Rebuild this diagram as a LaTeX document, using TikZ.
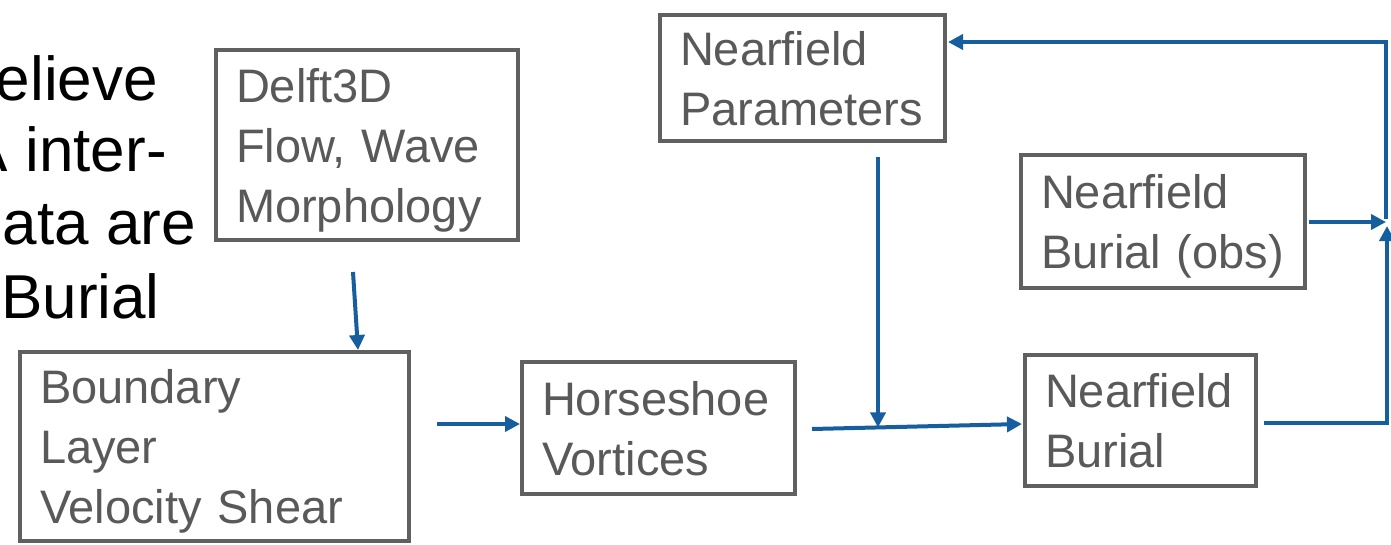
\documentclass[tikz,border=0pt]{standalone}
\usepackage{fontspec}
\setmainfont{Liberation Sans}
\usetikzlibrary{arrows.meta,calc}
\definecolor{boxgray}{RGB}{96,96,96}
\definecolor{txtgray}{RGB}{89,89,89}
\definecolor{arrblue}{RGB}{22,94,158}
\newcommand{\nodepth}[1]{\raisebox{0pt}[\height][0pt]{#1}}
\tikzset{
  flowbox/.style={draw=boxgray, line width=4pt, rectangle, inner sep=0pt,
    align=left, text=txtgray, font=\fontsize{47}{60}\selectfont},
  flowarrow/.style={draw=arrblue, line width=4pt,
    -{Triangle[length=15pt,width=15pt]}},
  slidetext/.style={anchor=base east, text=black, inner sep=0pt,
    font=\fontsize{62}{73}\selectfont}
}
\begin{document}
\begin{tikzpicture}[x=1pt,y=-1pt]
\useasboundingbox (0,0) rectangle (1391,544);
\clip (0,0) rectangle (1391,544);
\fill[white] (0,0) rectangle (1391,544);

% partial slide text on the left
\node[slidetext] (t1) at (158,100) {elieve};
\node[slidetext] (t2) at (167,171) {A inter-};
\node[slidetext] (t3) at (196,244) {ata are};
\node[slidetext] (t4) at (160,318) {Burial};

% boxes
\node[flowbox, minimum width=302pt, minimum height=190pt, text width=262pt]
  (delft) at (367,145) {Delft3D\\Flow, Wave\\\nodepth{Morphology}};
\node[flowbox, minimum width=389pt, minimum height=189pt, text width=349pt]
  (bound) at (214.5,446.5) {Boundary\\Layer\\\nodepth{Velocity Shear}};
\node[flowbox, minimum width=273pt, minimum height=132pt, text width=233pt]
  (horse) at (658.5,428) {Horseshoe\\\nodepth{Vortices}};
\node[flowbox, minimum width=285pt, minimum height=126pt, text width=245pt]
  (params) at (802.5,78) {Nearfield\\\nodepth{Parameters}};
\node[flowbox, minimum width=284pt, minimum height=133pt, text width=244pt]
  (obs) at (1163,221.5) {Nearfield\\\nodepth{Burial (obs)}};
\node[flowbox, minimum width=231pt, minimum height=131pt, text width=191pt]
  (burial) at (1140.5,420.5) {Nearfield\\\nodepth{Burial}};

% connectors
\draw[flowarrow] ($(delft.south)+(-14,30)$) -- ($(bound.north east)+(-53,0)$);

\coordinate (s2) at ($(bound.east)+(26,-22.5)$);
\draw[flowarrow] (s2) -- (s2 -| horse.west);

\coordinate (s3) at ($(horse.east)+(15,1)$);
\coordinate (e3) at ($(burial.west)+(-1,3.5)$);
\draw[flowarrow] (s3) -- (e3);
\coordinate (j) at ($(s3)!0.316!(e3)$);
\coordinate (s4) at ($(params.south)+(75.5,14)$);
\draw[flowarrow] (s4) -- (s4 |- j);

\coordinate (bus) at (1386,222);
\draw[flowarrow] ($(burial.east)+(6,2.5)$) -| ($(bus)+(1,4)$);
\draw[flowarrow] ($(obs.east)+(2,0.5)$) -- (bus);
\draw[flowarrow] ($(bus)+(0,-3)$) |- ($(params.east)+(1,-36)$);
\end{tikzpicture}
\end{document}
